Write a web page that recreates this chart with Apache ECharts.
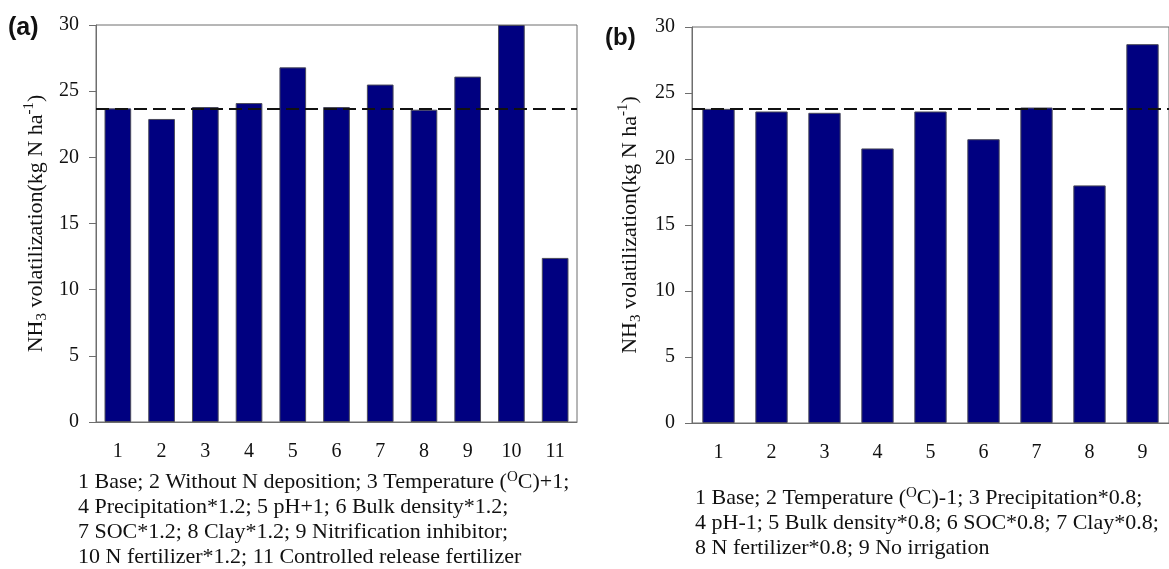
<!DOCTYPE html>
<html>
<head>
<meta charset="utf-8">
<title>NH3 volatilization sensitivity</title>
<script src="https://cdn.jsdelivr.net/npm/echarts@6.0.0/dist/echarts.min.js"></script>
<style>
  html, body { margin: 0; padding: 0; background: #fff; }
  #chart { width: 1169px; height: 569px; }
</style>
</head>
<body>
<div id="chart"></div>
<script>
// panel (a): increased inputs
var catsA = ['1', '2', '3', '4', '5', '6', '7', '8', '9', '10', '11'];
var valsA = [23.7, 22.9, 23.8, 24.1, 26.8, 23.8, 25.5, 23.6, 26.1, 30.0, 12.4];
var baseA = 23.7;

// panel (b): decreased inputs
var catsB = ['1', '2', '3', '4', '5', '6', '7', '8', '9'];
var valsB = [23.8, 23.6, 23.5, 20.8, 23.6, 21.5, 23.9, 18.0, 28.7];
var baseB = 23.8;

// y axis range shared by both panels
var yMin = 0;
var yMax = 30;
var yStep = 5;

var notesA = [
  '1 Base; 2 Without N deposition; 3 Temperature ({sup|O}C)+1;',
  '4 Precipitation*1.2; 5 pH+1; 6 Bulk density*1.2;',
  '7 SOC*1.2; 8 Clay*1.2; 9 Nitrification inhibitor;',
  '10 N fertilizer*1.2; 11 Controlled release fertilizer'
];
var notesB = [
  '1 Base; 2 Temperature ({sup|O}C)-1; 3 Precipitation*0.8;',
  '4 pH-1; 5 Bulk density*0.8; 6 SOC*0.8; 7 Clay*0.8;',
  '8 N fertilizer*0.8; 9 No irrigation'
];
var yName = 'NH{sub|3} volatilization(kg N ha{sup|-1})';

var serif = 'Liberation Serif';
var barColor = '#000080';
var axisGrey = '#6e6e6e';

function xAxisFor(idx, cats) {
  return {
    gridIndex: idx,
    type: 'category',
    data: cats,
    axisLine: { lineStyle: { color: axisGrey, width: 1 } },
    axisTick: { alignWithLabel: true, length: 6, lineStyle: { color: '#444' } },
    axisLabel: { color: '#111', fontFamily: serif, fontSize: 20, margin: 20 },
    splitLine: { show: false }
  };
}

function yAxisFor(idx, gap) {
  return {
    gridIndex: idx,
    type: 'value',
    min: yMin,
    max: yMax,
    interval: yStep,
    name: yName,
    nameLocation: 'middle',
    nameRotate: 90,
    nameGap: gap,
    nameTextStyle: {
      color: '#111',
      fontFamily: serif,
      fontSize: 22,
      lineHeight: 28,
      rich: {
        sub: { fontFamily: serif, fontSize: 15, verticalAlign: 'bottom', lineHeight: 28 },
        sup: { fontFamily: serif, fontSize: 15, verticalAlign: 'top', lineHeight: 28 }
      }
    },
    axisLine: { show: true, lineStyle: { color: axisGrey, width: 1 } },
    axisTick: { show: true, length: 7, lineStyle: { color: axisGrey } },
    axisLabel: { color: '#111', fontFamily: serif, fontSize: 20, margin: 17 },
    splitLine: { show: false }
  };
}

function barSeries(idx, vals, base) {
  return {
    type: 'bar',
    xAxisIndex: idx,
    yAxisIndex: idx,
    data: vals,
    barCategoryGap: '39%',
    itemStyle: { color: barColor, borderColor: '#4a4a5a', borderWidth: 1 },
    markLine: {
      silent: true,
      symbol: 'none',
      label: { show: false },
      lineStyle: { color: '#111', width: 2, type: [13, 6] },
      data: [{ yAxis: base }]
    }
  };
}

// caption lines under each panel
function noteLines(lines, x, y0, step) {
  return lines.map(function (t, i) {
    return {
      type: 'text',
      left: x,
      top: y0 + i * step,
      style: {
        text: t,
        fill: '#111',
        font: '22px "Liberation Serif"',
        lineHeight: 24,
        rich: {
          sup: { fontFamily: serif, fontSize: 15, verticalAlign: 'top', lineHeight: 24 }
        }
      }
    };
  });
}

var chart = echarts.init(document.getElementById('chart'));
var option = {
  animation: false,
  backgroundColor: '#fff',
  grid: [
    { left: 96, top: 25, width: 481, height: 397, show: true, borderColor: axisGrey, borderWidth: 1 },
    { left: 692, top: 27, width: 480, height: 396, show: true, borderColor: axisGrey, borderWidth: 1 }
  ],
  xAxis: [xAxisFor(0, catsA), xAxisFor(1, catsB)],
  yAxis: [yAxisFor(0, 46), yAxisFor(1, 48)],
  series: [barSeries(0, valsA, baseA), barSeries(1, valsB, baseB)],
  graphic: [
    {
      type: 'text', left: 8, top: 16,
      style: { text: '(a)', fill: '#111', font: 'bold 25px "Liberation Sans"' }
    },
    {
      type: 'text', left: 605, top: 26,
      style: { text: '(b)', fill: '#111', font: 'bold 24px "Liberation Sans"' }
    }
  ].concat(noteLines(notesA, 78, 470, 25), noteLines(notesB, 695, 486, 25))
};
chart.setOption(option);
</script>
</body>
</html>
